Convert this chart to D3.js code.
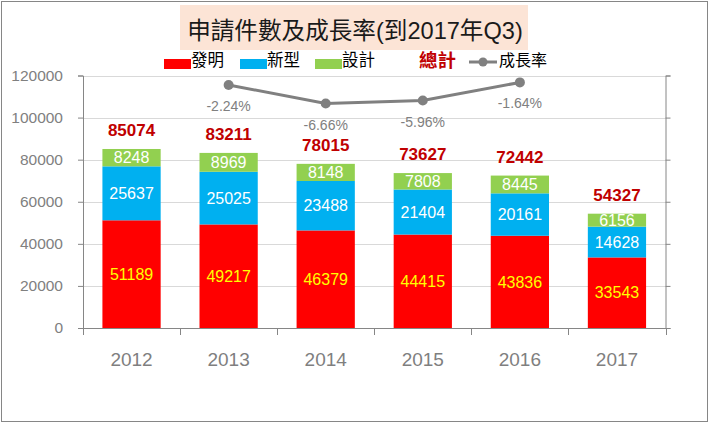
<!DOCTYPE html>
<html>
<head>
<meta charset="utf-8">
<title>申請件數及成長率</title>
<script type="text/javascript" src="https://cdnjs.cloudflare.com/ajax/libs/d3/7.8.5/d3.min.js"></script>
<style>
	body { margin: 0; background: #fff; }
	text { font-family: "Liberation Sans", Arial, "Noto Sans CJK TC", sans-serif; }
	.cjk { font-family: "Liberation Sans", "Noto Sans CJK TC", sans-serif; }
</style>
</head>
<body>
<svg id="chart" width="710" height="424"></svg>
<script type="text/javascript">
	// data
	var years = ["2012", "2013", "2014", "2015", "2016", "2017"];
	var invention = [51189, 49217, 46379, 44415, 43836, 33543];
	var utility = [25637, 25025, 23488, 21404, 20161, 14628];
	var design = [8248, 8969, 8148, 7808, 8445, 6156];
	var totals = [85074, 83211, 78015, 73627, 72442, 54327];
	var growthYears = ["2013", "2014", "2015", "2016"];
	var growth = [-2.24, -6.66, -5.96, -1.64];
	var yTicks = [0, 20000, 40000, 60000, 80000, 100000, 120000];

	var seriesNames = ["發明", "新型", "設計"];
	var colors = ["#ff0000", "#00b0f0", "#92d050"];
	var labelColors = ["#ffff00", "#ffffff", "#ffffff"];

	var svg = d3.select("#chart");
	var plotLeft = 83, plotRight = 665.5, plotTop = 75.5, plotBottom = 328;

	// frame
	svg.append("rect")
		.attr("x", 1.5).attr("y", 1.5)
		.attr("width", 706).attr("height", 420)
		.attr("fill", "#fff")
		.attr("stroke", "#868686")
		.attr("stroke-width", 1);

	var x = d3.scaleBand().domain(years).range([plotLeft, plotRight]).paddingInner(0.4).paddingOuter(0.2);
	var y = d3.scaleLinear().domain([0, 120000]).range([plotBottom, plotTop]);
	var y2 = d3.scaleLinear().domain([-60, 0]).range([plotBottom, plotTop]);

	// gridlines
	svg.append("g").selectAll("line")
		.data(yTicks.slice(1))
		.enter().append("line")
		.attr("x1", plotLeft).attr("x2", plotRight)
		.attr("y1", function (d) { return Math.round(y(d)) + 0.5; })
		.attr("y2", function (d) { return Math.round(y(d)) + 0.5; })
		.attr("stroke", "#d9d9d9");

	// stacked bars
	var rows = years.map(function (yr, i) {
		return { year: yr, s0: invention[i], s1: utility[i], s2: design[i] };
	});
	var stack = d3.stack().keys(["s0", "s1", "s2"])(rows);

	var layers = svg.append("g").selectAll("g")
		.data(stack)
		.enter().append("g")
		.attr("fill", function (d, i) { return colors[i]; });

	layers.selectAll("rect")
		.data(function (d) { return d; })
		.enter().append("rect")
		.attr("x", function (d) { return x(d.data.year); })
		.attr("width", x.bandwidth())
		.attr("y", function (d) { return y(d[1]); })
		.attr("height", function (d) { return y(d[0]) - y(d[1]); });

	stack.forEach(function (layer, k) {
		svg.append("g").selectAll("text")
			.data(layer)
			.enter().append("text")
			.attr("x", function (d) { return x(d.data.year) + x.bandwidth() / 2; })
			.attr("y", function (d) { return (y(d[0]) + y(d[1])) / 2; })
			.attr("dy", "0.36em")
			.attr("text-anchor", "middle")
			.attr("font-size", 16)
			.attr("fill", labelColors[k])
			.text(function (d) { return d[1] - d[0]; });
	});

	// totals
	svg.append("g").selectAll("text")
		.data(totals)
		.enter().append("text")
		.attr("x", function (d, i) { return x(years[i]) + x.bandwidth() / 2; })
		.attr("y", function (d) { return y(d) - 19; })
		.attr("dy", "0.36em")
		.attr("text-anchor", "middle")
		.attr("font-size", 17)
		.attr("font-weight", "bold")
		.attr("fill", "#c00000")
		.text(function (d) { return d; });

	// axes
	var yAxis = svg.append("g")
		.attr("transform", "translate(" + plotLeft + ",0)")
		.call(d3.axisLeft(y).tickValues(yTicks).tickSize(5).tickPadding(15).tickFormat(d3.format("d")));
	yAxis.selectAll("text").attr("font-size", 15.5).attr("fill", "#808080");

	svg.append("g")
		.attr("transform", "translate(" + plotRight + ",0)")
		.call(d3.axisRight(y).tickValues(yTicks).tickSize(5).tickFormat(""));

	var xAxis = svg.append("g")
		.attr("transform", "translate(0," + plotBottom + ")")
		.call(d3.axisBottom(x).tickSize(0).tickPadding(25));
	xAxis.selectAll("text").attr("font-size", 19).attr("fill", "#7f7f7f");

	// x category boundary ticks
	var step = x.step();
	svg.append("g").selectAll("line")
		.data(d3.range(years.length + 1))
		.enter().append("line")
		.attr("x1", function (i) { return Math.round(plotLeft + i * step) + 0.5; })
		.attr("x2", function (i) { return Math.round(plotLeft + i * step) + 0.5; })
		.attr("y1", plotBottom).attr("y2", plotBottom + 7)
		.attr("stroke", "#868686");

	svg.selectAll(".domain").attr("stroke", "#868686");
	svg.selectAll(".tick line").attr("stroke", "#868686");

	// growth line
	var line = d3.line()
		.x(function (d, i) { return x(growthYears[i]) + x.bandwidth() / 2; })
		.y(function (d) { return y2(d); });

	svg.append("path")
		.datum(growth)
		.attr("d", line)
		.attr("fill", "none")
		.attr("stroke", "#808080")
		.attr("stroke-width", 3);

	svg.append("g").selectAll("circle")
		.data(growth)
		.enter().append("circle")
		.attr("cx", function (d, i) { return x(growthYears[i]) + x.bandwidth() / 2; })
		.attr("cy", function (d) { return y2(d); })
		.attr("r", 5)
		.attr("fill", "#808080");

	svg.append("g").selectAll("text")
		.data(growth)
		.enter().append("text")
		.attr("x", function (d, i) { return x(growthYears[i]) + x.bandwidth() / 2; })
		.attr("y", function (d) { return y2(d) + 21; })
		.attr("dy", "0.36em")
		.attr("text-anchor", "middle")
		.attr("font-size", 14)
		.attr("fill", "#808080")
		.text(function (d) { return d.toFixed(2) + "%"; });

	// title
	svg.append("rect")
		.attr("x", 180).attr("y", 5)
		.attr("width", 348).attr("height", 45)
		.attr("fill", "#fce4d6");
	svg.append("text")
		.attr("class", "cjk")
		.attr("x", 355).attr("y", 39)
		.attr("text-anchor", "middle")
		.attr("font-size", 23.6)
		.attr("fill", "#1a1a1a")
		.text("申請件數及成長率(到2017年Q3)");

	// legend
	var legendX = [164, 240, 315];
	seriesNames.forEach(function (name, i) {
		svg.append("rect")
			.attr("x", legendX[i]).attr("y", 59)
			.attr("width", 27).attr("height", 10)
			.attr("fill", colors[i]);
		svg.append("text")
			.attr("class", "cjk")
			.attr("x", legendX[i] + 27).attr("y", 66)
			.attr("font-size", 16.5)
			.attr("fill", "#000")
			.text(name);
	});
	svg.append("text")
		.attr("class", "cjk")
		.attr("x", 419).attr("y", 67)
		.attr("font-size", 18.5)
		.attr("font-weight", "bold")
		.attr("fill", "#c00000")
		.text("總計");
	svg.append("line")
		.attr("x1", 469).attr("x2", 497)
		.attr("y1", 62).attr("y2", 62)
		.attr("stroke", "#808080").attr("stroke-width", 3);
	svg.append("circle")
		.attr("cx", 483).attr("cy", 62).attr("r", 4.5)
		.attr("fill", "#808080");
	svg.append("text")
		.attr("class", "cjk")
		.attr("x", 499).attr("y", 66)
		.attr("font-size", 16)
		.attr("fill", "#000")
		.text("成長率");
</script>
</body>
</html>
